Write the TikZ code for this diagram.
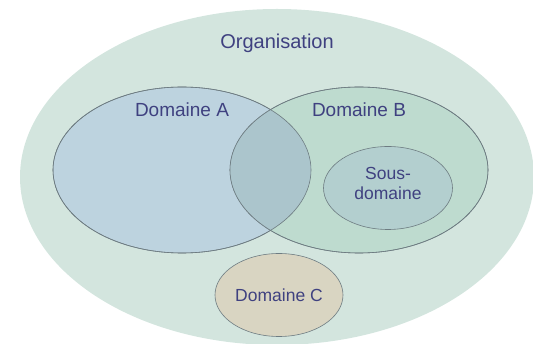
\documentclass[tikz,border=0pt]{standalone}
\usepackage{fontspec}
\setmainfont{Liberation Sans}
\usetikzlibrary{shapes.geometric}
\definecolor{orgfill}{HTML}{D3E5DE}
\definecolor{afill}{HTML}{BDD3DF}
\definecolor{bfill}{HTML}{BEDBCF}
\definecolor{abfill}{HTML}{ABC5CC}
\definecolor{sfill}{HTML}{B3CFCF}
\definecolor{cfill}{HTML}{D9D5C2}
\definecolor{txt}{HTML}{3F4180}
\definecolor{edge}{HTML}{6E7C82}
\tikzset{
  dom/.style={ellipse, inner sep=0pt, draw=edge, line width=0.6pt},
  lbl/.style={text=txt, inner sep=0pt, align=center, font=\fontsize{19}{21}\selectfont}
}
\begin{document}
\begin{tikzpicture}[x=1pt,y=-1pt]
\useasboundingbox (0,0) rectangle (533,344);
\clip (0,0) rectangle (533,344);
\node[ellipse, inner sep=0pt, fill=orgfill, minimum width=514pt, minimum height=336pt] (org) at (277,177) {};
\node[dom, fill=afill, minimum width=258pt, minimum height=166pt] (a) at (182,170) {};
\node[dom, fill=bfill, minimum width=258pt, minimum height=166pt] (b) at (359,170) {};
\begin{scope}
  \clip (182,170) ellipse [x radius=129pt, y radius=83pt];
  \fill[abfill] (359,170) ellipse [x radius=129pt, y radius=83pt];
\end{scope}
\draw[edge, line width=0.6pt] (182,170) ellipse [x radius=129pt, y radius=83pt];
\draw[edge, line width=0.6pt] (359,170) ellipse [x radius=129pt, y radius=83pt];
\node[dom, fill=sfill, minimum width=129pt, minimum height=83pt] (s) at (388,188) {};
\node[dom, fill=cfill, minimum width=128pt, minimum height=83pt] (c) at (279,295) {};
\node[lbl, font=\fontsize{20}{22}\selectfont] (torg) at (277,43) {Organisation};
\node[lbl] (ta) at (182,110) {Domaine A};
\node[lbl] (tb) at (359,110) {Domaine B};
\node[lbl, font=\fontsize{17.5}{20}\selectfont] (ts) at (388,183) {Sous-\\domaine};
\node[lbl, font=\fontsize{17.5}{20}\selectfont] (tc) at (279,295) {Domaine C};
\end{tikzpicture}
\end{document}
